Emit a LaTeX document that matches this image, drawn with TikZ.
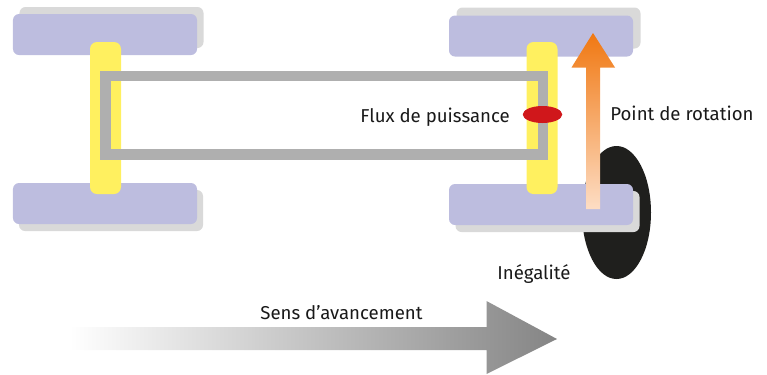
\documentclass[tikz,border=0pt]{standalone}
\usepackage{fontspec}
\usetikzlibrary{shapes.geometric}
\setmainfont{Fira Sans}
\definecolor{wheelblue}{HTML}{BDBDDF}
\definecolor{wheelshadow}{HTML}{D9D9D9}
\definecolor{axleyellow}{HTML}{FFF05F}
\definecolor{framegray}{HTML}{AFAFAF}
\definecolor{fluxred}{HTML}{D0171B}
\definecolor{bumpblack}{HTML}{1F1F1D}
\definecolor{arroworange}{HTML}{F07812}
\definecolor{arrowpale}{HTML}{FDDDC4}
\tikzset{
  wheel/.style={fill=wheelblue, rounded corners=0.12cm, inner sep=0pt, minimum width=3.68cm, minimum height=0.82cm},
  shadow/.style={fill=wheelshadow, rounded corners=0.12cm, inner sep=0pt, minimum width=3.68cm, minimum height=0.82cm},
  axle/.style={fill=axleyellow, rounded corners=0.14cm, inner sep=0pt, minimum width=0.62cm, minimum height=3.04cm},
  label/.style={inner sep=0pt, text=black!90, font=\fontsize{10.6}{12}\selectfont}
}
\begin{document}
\begin{tikzpicture}[x=0.2mm, y=-0.2mm]
    \useasboundingbox (0,0) rectangle (767,374);

    % inegalite
    \node[ellipse, fill=bumpblack, inner sep=0pt, minimum width=1.38cm, minimum height=2.66cm] (bump) at (616.5,212.5) {};

    % ombres
    \node[shadow] (shadowLT) at (111.5,27.5) {};
    \node[shadow] (shadowLB) at (111,210.5) {};
    \node[shadow] (shadowRT) at (548.5,28) {};
    \node[shadow] (shadowRB) at (547.5,211.5) {};

    % roues
    \node[wheel] (wheelLT) at (105,34.5) {};
    \node[wheel] (wheelLB) at (105,203.5) {};
    \node[wheel] (wheelRT) at (541,36) {};
    \node[wheel] (wheelRB) at (541,204.5) {};

    % essieux
    \node[axle] (axleL) at (105.5,118) {};
    \node[axle] (axleR) at (542,118) {};

    % cadre
    \draw[framegray, line width=0.21cm] (105.5,76) rectangle (543,154.5);

    \node[ellipse, fill=fluxred, inner sep=0pt, minimum width=0.79cm, minimum height=0.34cm] (flux) at (542.5,114.5) {};

    % fleche de rotation
    \shade[top color=arroworange, bottom color=arrowpale, shading angle=0]
      (586,209) -- (586,67.5) -- (571.5,67.5) -- (593,33) -- (615,67.5) -- (600,67.5) -- (600,209) -- cycle;

    % fleche d'avancement
    \shade[left color=white, right color=black!48]
      (70,327) -- (486.5,327) -- (486.5,301) -- (557,339) -- (486.5,374) -- (486.5,350) -- (70,350) -- cycle;

    % textes
    \node[label, anchor=base west] (fluxtext) at (360,122.5) {Flux de puissance};
    \node[label, anchor=base west] (rotation) at (610,120.5) {Point de rotation};
    \node[label, anchor=base west] (inegalite) at (497,279.5) {Inégalité};
    \node[label, anchor=base west] (sens) at (260,319) {Sens d’avancement};
\end{tikzpicture}
\end{document}
